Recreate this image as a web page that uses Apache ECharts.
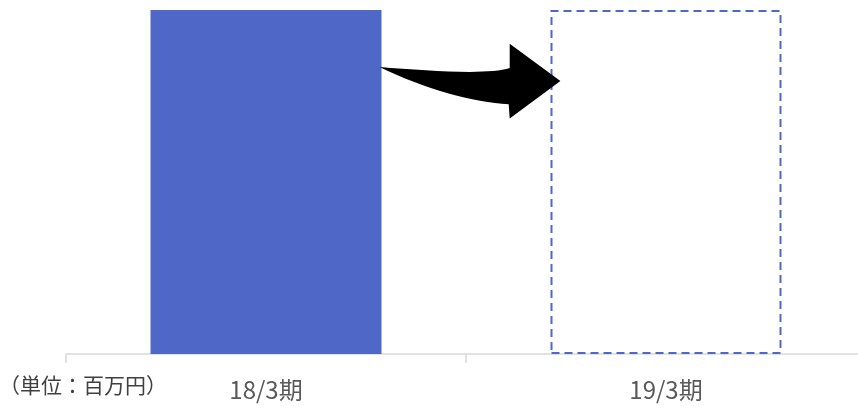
<!DOCTYPE html>
<html>
<head>
<meta charset="utf-8">
<script src="https://cdn.jsdelivr.net/npm/echarts@6/dist/echarts.min.js"></script>
<style>
html,body{margin:0;padding:0;background:#fff;}
#chart{width:858px;height:407px;}
</style>
</head>
<body>
<div id="chart"></div>
<script>
// Fiscal periods and their values (units: million yen)
const categories = ['18/3期', '19/3期'];
const values = [100, 100];
const unitLabel = '（単位：百万円）';

const BLUE = '#4F68C8';
const FONT = '"Noto Sans CJK JP", "Noto Sans", sans-serif';
const BAR_W = 231;

const chart = echarts.init(document.getElementById('chart'));

const barData = values.map((v, i) => i === 0
  ? { value: v, itemStyle: { color: BLUE } }
  : { value: v, itemStyle: { color: 'rgba(0,0,0,0)', borderColor: BLUE, borderWidth: 2, borderType: [8, 5] } });

// Curved arrow from the first bar's right edge to the second bar's left edge
function renderArrow(params, api) {
  if (params.dataIndex !== 0) return null;
  const c0 = api.coord([0, values[0] * 0.834]);
  const c1 = api.coord([1, values[1]]);
  const x0 = c0[0] + BAR_W / 2 - 2;
  const y0 = c0[1];
  const x1 = c1[0] - BAR_W / 2;
  const s = (x1 - x0) / 172;
  const p = (dx, dy) => (x0 + dx * s).toFixed(1) + ',' + (y0 + dy * s).toFixed(1);
  const d = 'M' + p(0, 0) +
    ' C' + p(50, 4) + ' ' + p(110, 8) + ' ' + p(131, 1) +
    ' L' + p(131, -23.4) +
    ' L' + p(182, 14) +
    ' L' + p(131, 51.6) +
    ' L' + p(130, 37.3) +
    ' C' + p(95, 36) + ' ' + p(45, 22) + ' ' + p(0, 0) + ' Z';
  return { type: 'path', shape: { pathData: d }, style: { fill: '#000' } };
}

chart.setOption({
  animation: false,
  grid: { left: 66, width: 800, top: 10, bottom: 53, outerBoundsMode: 'none' },
  xAxis: {
    type: 'category',
    data: categories,
    axisLine: { lineStyle: { color: '#d9d9d9', width: 1.5 } },
    axisTick: { show: true, length: 9, lineStyle: { color: '#d9d9d9', width: 1.5 } },
    axisLabel: { color: '#595959', fontSize: 24, fontFamily: FONT, margin: 24 }
  },
  yAxis: {
    type: 'value', min: 0, max: 100, show: false, splitLine: { show: false }
  },
  series: [
    { type: 'bar', barWidth: BAR_W, data: barData, z: 1 },
    { type: 'custom', renderItem: renderArrow, data: [0], z: 10, silent: true }
  ],
  graphic: [{
    type: 'text', left: -1, top: 375,
    style: { text: unitLabel, fill: '#404040', font: '21px ' + FONT }
  }]
});
</script>
</body>
</html>
